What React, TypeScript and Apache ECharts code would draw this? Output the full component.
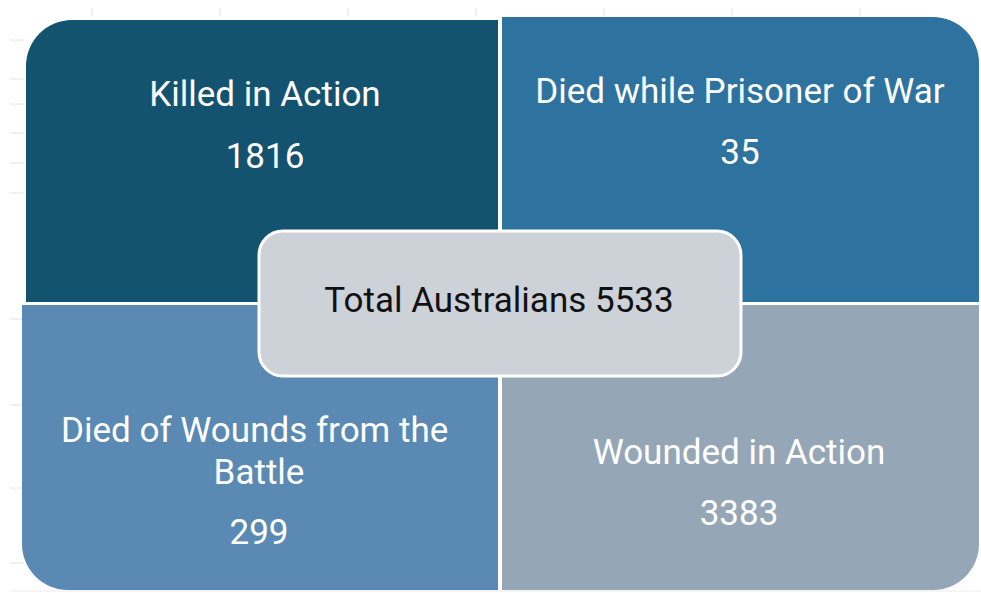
import React, { useEffect, useRef } from "react";
import * as echarts from "echarts";

// ---- data ----
const categories: string[] = [
  "Killed in Action",
  "Died while Prisoner of War",
  "Died of Wounds from the Battle",
  "Wounded in Action",
];
const values: number[] = [1816, 35, 299, 3383];
const totalLabel = "Total Australians";
const totalValue = 5533;

// ---- layout / styles ----
const quadColors = ["#14536F", "#2E72A0", "#5A8AB3", "#95A6B6"];
// [x, y, w, h, radius array]
const quadRects: [number, number, number, number, number[]][] = [
  [26, 20, 472, 282, [46, 0, 0, 0]],
  [502, 17, 477, 285, [0, 46, 0, 0]],
  [22, 305, 476, 285, [0, 0, 0, 46]],
  [502, 305, 477, 285, [0, 0, 46, 0]],
];
// [centerX, titleCenterY (first line), valueCenterY]
const textPos: [number, number, number][] = [
  [265, 94, 156],
  [740, 91, 152],
  [259, 430, 532],
  [739, 452, 513],
];
const FONT = "Roboto, 'Noto Sans', sans-serif";
const gridX = [92, 220, 348, 476, 604, 732, 860];
const gridY = [40, 79, 104, 133, 163, 193, 319, 405, 488, 563];

export default function App() {
  const ref = useRef<HTMLDivElement>(null);
  useEffect(() => {
    if (!ref.current) return;
    const chart = echarts.init(ref.current, undefined, { renderer: "svg" });
    const elements: any[] = [];
    // faint worksheet gridline marks
    gridX.forEach((x) =>
      elements.push({
        type: "line",
        shape: { x1: x, y1: 8, x2: x, y2: 16 },
        style: { stroke: "#e4e4e4", lineWidth: 1 },
        z: 0,
      })
    );
    gridY.forEach((y) =>
      elements.push({
        type: "line",
        shape: { x1: 10, y1: y, x2: 24, y2: y },
        style: { stroke: "#e4e4e4", lineWidth: 1 },
        z: 0,
      })
    );
    elements.push({
      type: "line",
      shape: { x1: 10, y1: 591, x2: 981, y2: 591 },
      style: { stroke: "#ececec", lineWidth: 1 },
      z: 0,
    });
    // quadrants
    categories.forEach((cat, i) => {
      const [x, y, w, h, r] = quadRects[i];
      elements.push({
        type: "rect",
        shape: { x, y, width: w, height: h, r },
        style: { fill: quadColors[i] },
        z: 1,
      });
      const [cx, ty, vy] = textPos[i];
      elements.push({
        type: "text",
        x: cx,
        y: ty - 21,
        style: {
          text: cat,
          fill: "#ffffff",
          font: `35px ${FONT}`,
          textAlign: "center",
          textVerticalAlign: "top",
          width: 420,
          overflow: "break",
          lineHeight: 42,
        },
        z: 3,
      });
      elements.push({
        type: "text",
        x: cx,
        y: vy,
        style: {
          text: String(values[i]),
          fill: "#ffffff",
          font: `35px ${FONT}`,
          textAlign: "center",
          textVerticalAlign: "middle",
        },
        z: 3,
      });
    });
    // center box
    elements.push({
      type: "rect",
      shape: { x: 259, y: 231, width: 482, height: 145, r: 24 },
      style: { fill: "#CDD2D9", stroke: "#ffffff", lineWidth: 3 },
      z: 4,
    });
    elements.push({
      type: "text",
      x: 499,
      y: 300,
      style: {
        text: `${totalLabel} ${totalValue}`,
        fill: "#111111",
        font: `35px ${FONT}`,
        textAlign: "center",
        textVerticalAlign: "middle",
      },
      z: 5,
    });
    chart.setOption({
      animation: false,
      backgroundColor: "#ffffff",
      graphic: { elements },
    });
    return () => chart.dispose();
  }, []);
  return (
    <div
      ref={ref}
      style={{ position: "fixed", left: 0, top: 0, width: 981, height: 593 }}
    />
  );
}
